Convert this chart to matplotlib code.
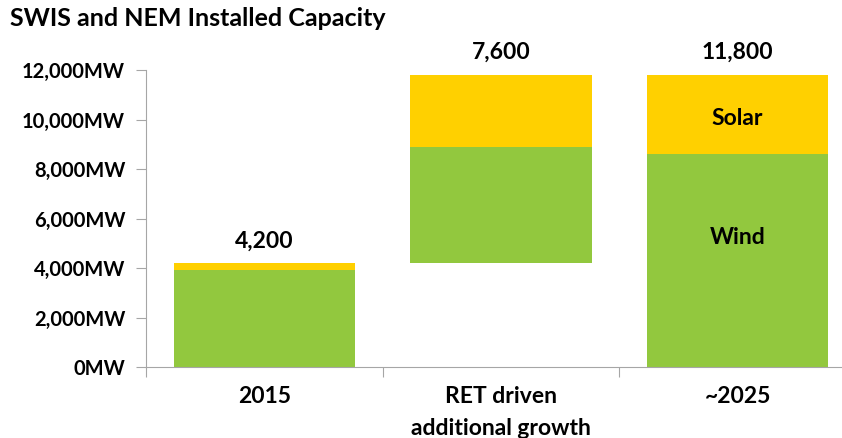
import matplotlib.pyplot as plt
from matplotlib.ticker import FuncFormatter, FixedLocator

# Data (MW)
categories = ["2015", "RET driven\nadditional growth", "~2025"]
wind = [3900, 4700, 8600]
solar = [300, 2900, 3200]
totals = [4200, 7600, 11800]

GREEN = "#92C83E"
YELLOW = "#FFD000"
GREY = "#A6A6A6"

plt.rcParams['font.family'] = ['Lato', 'DejaVu Sans']

fig = plt.figure(figsize=(8.42, 4.38), dpi=100)
ax = fig.add_axes([146/842, 1 - 367/438, (856 - 146)/842, (367 - 70)/438])

x = list(range(len(categories)))
# waterfall: middle bar floats on top of the 2015 total
bases = [0, wind[0] + solar[0], 0]
bw = 0.765
ax.bar(x, wind, bw, bottom=bases, color=GREEN)
ax.bar(x, solar, bw, bottom=[b + w for b, w in zip(bases, wind)], color=YELLOW)

for i in x:
    top = bases[i] + wind[i] + solar[i]
    ax.text(i, top + 900, f"{totals[i]:,}", ha='center', va='center',
            fontsize=16.5, fontweight='bold')

ax.text(2, 10050, "Solar", ha='center', va='center',
        fontsize=16.5, fontweight='bold')
ax.text(2, 5250, "Wind", ha='center', va='center',
        fontsize=16.5, fontweight='bold')

ax.set_xlim(-0.5, 2.5)
ax.set_ylim(0, 12000)
ax.set_yticks(range(0, 12001, 2000))
ax.yaxis.set_major_formatter(FuncFormatter(lambda v, p: f"{int(v):,}MW"))
ax.xaxis.set_major_locator(FixedLocator([-0.5, 0.5, 1.5, 2.5]))
ax.xaxis.set_ticklabels([])
ax.xaxis.set_minor_locator(FixedLocator(x))
ax.xaxis.set_ticklabels(categories, minor=True)
ax.tick_params(axis='x', which='minor', length=0, pad=14, labelsize=16.5)
ax.tick_params(axis='x', which='major', length=7, color=GREY, direction='out')
ax.tick_params(axis='y', length=7, color=GREY, labelsize=14.5, pad=8)
for lab in ax.get_xticklabels(minor=True):
    lab.set_fontweight('bold')
    lab.set_linespacing(1.6)
for lab in ax.get_yticklabels():
    lab.set_fontweight('bold')

for s in ['top', 'right']:
    ax.spines[s].set_visible(False)
for s in ['left', 'bottom']:
    ax.spines[s].set_color(GREY)

fig.text(10/842, 1 - 19/438, "SWIS and NEM Installed Capacity", ha='left',
         va='center', fontsize=18, fontweight='bold')

fig.savefig("out.png", dpi=100)
